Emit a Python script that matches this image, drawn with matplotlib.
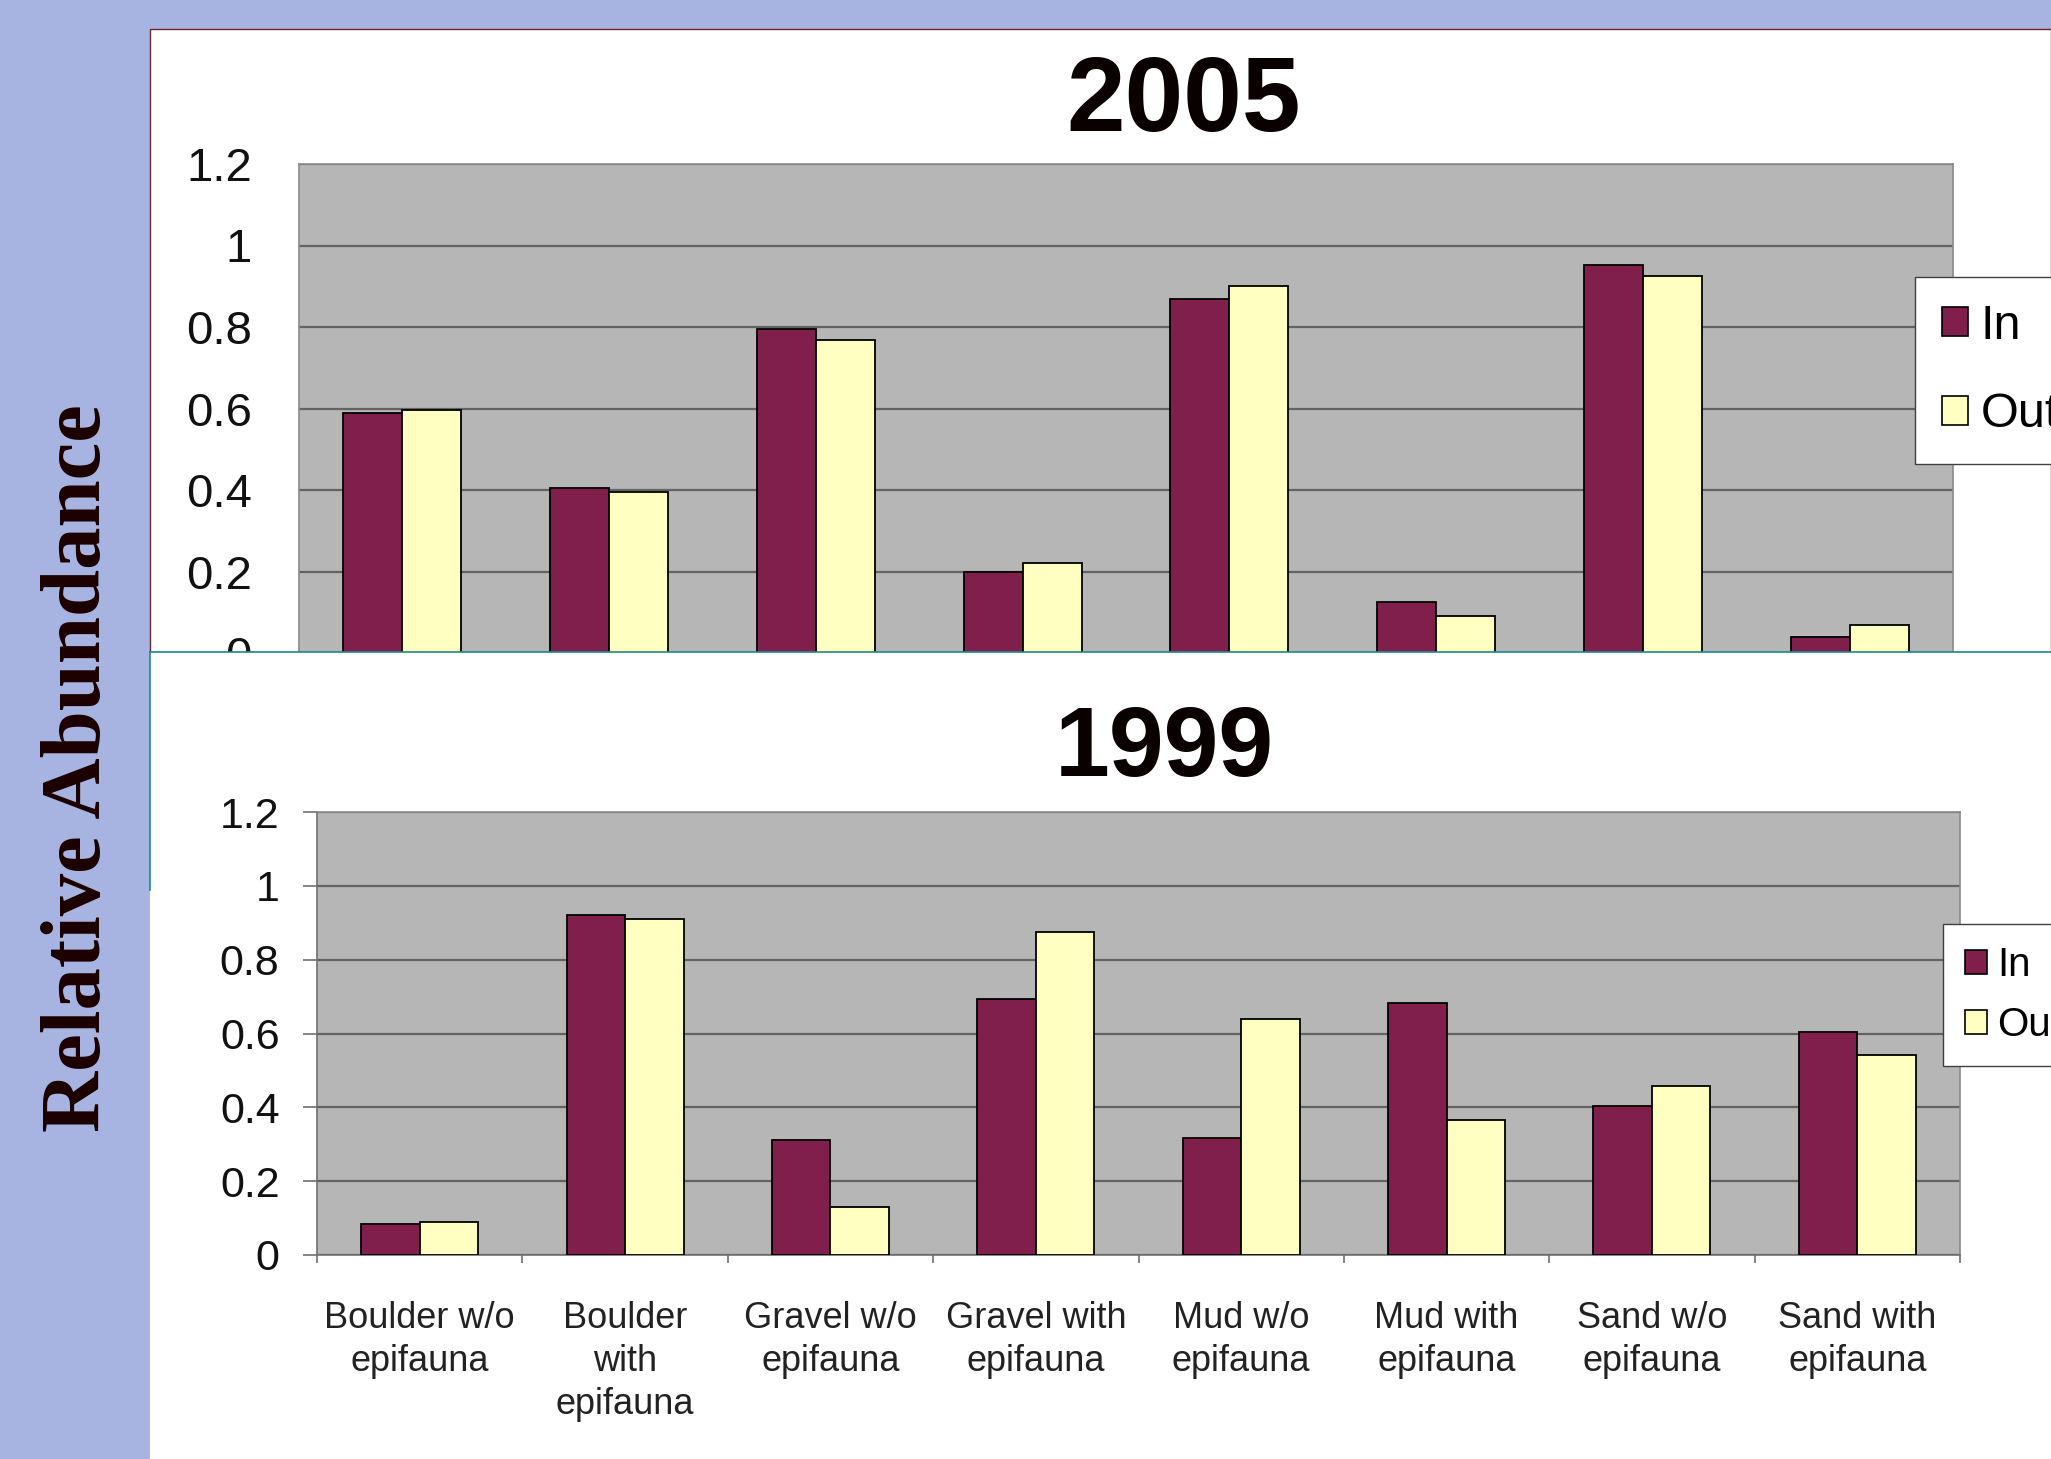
import numpy as np
import matplotlib
matplotlib.use('Agg')
import matplotlib.pyplot as plt
from matplotlib.patches import Rectangle, Patch
from matplotlib.lines import Line2D

# Habitat categories (shared by both panels)
categories = ['Boulder w/o\nepifauna', 'Boulder\nwith\nepifauna', 'Gravel w/o\nepifauna',
              'Gravel with\nepifauna', 'Mud w/o\nepifauna', 'Mud with\nepifauna',
              'Sand w/o\nepifauna', 'Sand with\nepifauna']
series_names = ['In', 'Out']

# 2005 relative abundance
in_2005 = [0.59, 0.405, 0.795, 0.20, 0.868, 0.125, 0.953, 0.04]
out_2005 = [0.597, 0.395, 0.768, 0.222, 0.90, 0.09, 0.925, 0.068]

# 1999 relative abundance
in_1999 = [0.083, 0.92, 0.311, 0.693, 0.318, 0.682, 0.404, 0.603]
out_1999 = [0.090, 0.91, 0.129, 0.874, 0.638, 0.365, 0.459, 0.542]

y_ticks = [0, 0.2, 0.4, 0.6, 0.8, 1, 1.2]
y_ticklabels = ['0', '0.2', '0.4', '0.6', '0.8', '1', '1.2']

W, H = 2051, 1459
IN_COLOR = '#801f4c'
OUT_COLOR = '#ffffc2'
PLOT_BG = '#b6b6b6'
GRID = '#636363'
FONT = 'Liberation Sans'


def px_box(x0, y0, x1, y1):
    """pixel box (top-left origin) -> figure fraction [l, b, w, h]"""
    return [x0 / W, 1 - y1 / H, (x1 - x0) / W, (y1 - y0) / H]


def draw_bars(ax, vals_in, vals_out, bar_w=0.285):
    x = np.arange(len(categories))
    ax.bar(x - bar_w / 2, vals_in, bar_w, color=IN_COLOR, edgecolor='black', linewidth=1.3, zorder=3)
    ax.bar(x + bar_w / 2, vals_out, bar_w, color=OUT_COLOR, edgecolor='black', linewidth=1.3, zorder=3)
    ax.set_xlim(-0.5, len(categories) - 0.5)
    ax.set_ylim(0, 1.2)
    ax.set_facecolor(PLOT_BG)
    ax.set_yticks(y_ticks)
    ax.set_yticklabels(y_ticklabels)
    ax.yaxis.grid(True, color=GRID, linewidth=1.6)
    ax.set_axisbelow(True)
    for s in ax.spines.values():
        s.set_color('#8a8a8a')
        s.set_linewidth(1.2)


def add_legend(ax, anchor, size, spacing, zorder):
    handles = [Patch(facecolor=IN_COLOR, edgecolor='black', linewidth=1.2),
               Patch(facecolor=OUT_COLOR, edgecolor='black', linewidth=1.2)]
    leg = ax.legend(handles, series_names, loc='upper left', bbox_to_anchor=anchor,
                    bbox_transform=ax.figure.transFigure, frameon=True, fancybox=False,
                    framealpha=1.0, facecolor='white',
                    prop={'family': FONT, 'size': size}, handlelength=0.55, handleheight=0.55,
                    handletextpad=0.25, labelspacing=spacing, borderpad=0.55, borderaxespad=0)
    leg.get_frame().set_edgecolor('#404040')
    leg.get_frame().set_linewidth(1.0)
    leg.set_zorder(zorder)
    return leg


fig = plt.figure(figsize=(W / 100, H / 100), dpi=100)
fig.patch.set_facecolor('#a7b3e0')

# white slide panel behind the 2005 chart
fig.add_artist(Rectangle((150 / W, 1 - 652 / H), 1 - 150 / W, (652 - 29) / H,
                         transform=fig.transFigure, facecolor='white', edgecolor='#6b2a2a',
                         linewidth=1.0, zorder=-1))

# ---- 2005 chart (bottom is covered by the lower panel) ----
ax_top = fig.add_axes(px_box(299, 164, 1953, 653), zorder=0)
draw_bars(ax_top, in_2005, out_2005)
ax_top.set_xticks([])
ax_top.tick_params(axis='y', length=0, pad=34, labelsize=34, labelcolor='#111111')
for lab in ax_top.get_yticklabels():
    lab.set_family(FONT)
add_legend(ax_top, (1915 / W, 1 - 277 / H), 35, 0.9, 5)

# lower white panel, drawn over the bottom of the 2005 chart
fig.add_artist(Rectangle((150 / W, 0), 1 - 150 / W, 1 - 652 / H,
                         transform=fig.transFigure, facecolor='white', edgecolor='none', zorder=1))
fig.add_artist(Line2D([150 / W, 1], [1 - 652 / H] * 2, transform=fig.transFigure,
                      color='#1f8a8a', linewidth=1.2, zorder=1.5))
fig.add_artist(Line2D([150 / W, 150 / W], [1 - 652 / H, 1 - 890 / H], transform=fig.transFigure,
                      color='#1f8a8a', linewidth=1.2, zorder=1.5))

# ---- 1999 chart ----
ax_bot = fig.add_axes(px_box(317, 812, 1960, 1255), zorder=2)
draw_bars(ax_bot, in_1999, out_1999)
ax_bot.spines['bottom'].set_color('#707070')
ax_bot.spines['left'].set_color('#707070')
ax_bot.tick_params(axis='y', direction='out', length=10, width=1.2, color='#707070',
                   pad=17, labelsize=31, labelcolor='#111111')
ax_bot.set_xticks(np.arange(-0.5, len(categories), 1))
ax_bot.set_xticklabels([])
ax_bot.tick_params(axis='x', which='major', direction='out', length=6, width=1.2, color='#707070')
ax_bot.set_xticks(np.arange(len(categories)), minor=True)
ax_bot.set_xticklabels(categories, minor=True, fontsize=26, color='#222222', linespacing=1.3)
ax_bot.tick_params(axis='x', which='minor', length=0, pad=33)
for lab in ax_bot.get_yticklabels() + ax_bot.get_xticklabels(minor=True):
    lab.set_family(FONT)
add_legend(ax_bot, (1943 / W, 1 - 924 / H), 29, 0.55, 5)

# titles
fig.text(1184 / W, 1 - 103 / H, '2005', ha='center', va='center', fontsize=76,
         fontweight='bold', family=FONT, color='#0a0000', zorder=3)
fig.text(1164 / W, 1 - 751 / H, '1999', ha='center', va='center', fontsize=71,
         fontweight='bold', family=FONT, color='#0a0000', zorder=3)

# shared y label on the blue margin
fig.text(80 / W, 1 - 768 / H, 'Relative Abundance', rotation=90, ha='center', va='center',
         fontsize=61, fontweight='bold', family='Liberation Serif', color='#1c0000', zorder=3)

fig.savefig('out.png', dpi=100, facecolor=fig.get_facecolor())
